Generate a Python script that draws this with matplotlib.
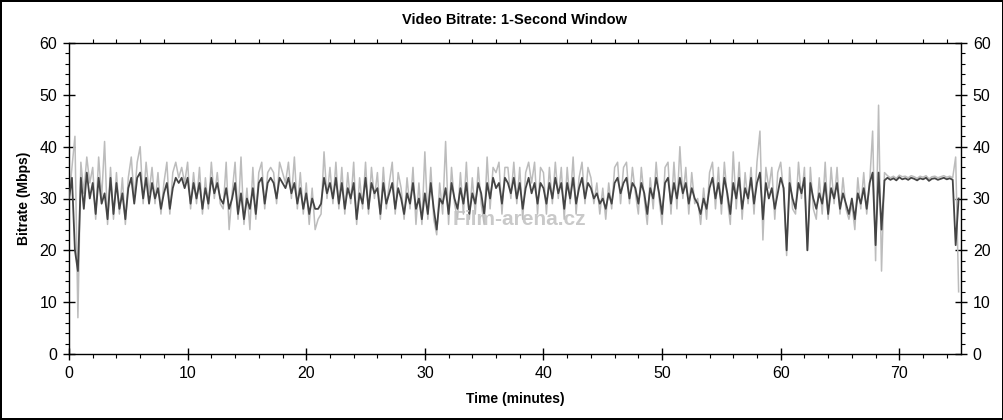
import numpy as np
import matplotlib
matplotlib.use("Agg")
import matplotlib.pyplot as plt
from matplotlib.ticker import MultipleLocator

plt.rcParams['font.family'] = ['Liberation Sans', 'DejaVu Sans']

step_min = 0.25   # one sample every 15 s

# dark trace (Mbps), 4 samples per minute
bitrate_avg = [
    30, 34, 20, 16,  34, 28, 35, 30,  33, 27, 34, 29,  31, 26, 34, 27,  33, 28, 31, 26,
    32, 34, 29, 34,  35, 30, 34, 29,  33, 30, 32, 28,  31, 33, 28, 32,  34, 33, 34, 32,
    34, 29, 33, 30,  33, 28, 32, 29,  34, 31, 33, 30,  29, 32, 28, 30,  33, 27, 31, 26,
    30, 28, 32, 27,  33, 34, 29, 33,  34, 33, 30, 34,  33, 32, 34, 31,  33, 29, 32, 28,
    31, 27, 30, 28,  28, 29, 34, 31,  33, 30, 34, 29,  33, 28, 32, 30,  33, 26, 31, 29,
    34, 28, 33, 31,  32, 27, 33, 29,  31, 33, 28, 32,  30, 27, 31, 29,  33, 28, 30, 26,
    31, 27, 33, 28,  24, 30, 29, 32,  27, 33, 30, 28,  32, 29, 33, 27,  31, 29, 33, 31,
    27, 33, 30, 34,  32, 33, 29, 34,  33, 31, 34, 30,  33, 28, 32, 34,  31, 33, 29, 33,
    32, 29, 33, 30,  34, 31, 33, 28,  33, 30, 34, 29,  32, 34, 30, 33,  32, 30, 31, 29,
    30, 28, 31, 29,  33, 34, 31, 33,  34, 30, 33, 32,  29, 33, 31, 27,  32, 30, 34, 31,
    27, 33, 34, 29,  33, 30, 34, 31,  33, 29, 32, 30,  29, 27, 30, 28,  32, 34, 30, 33,
    29, 34, 31, 27,  33, 30, 34, 28,  32, 30, 34, 29,  33, 35, 26, 33,  30, 32, 28, 31,
    34, 32, 20, 33,  30, 28, 33, 31,  34, 20, 33, 30,  28, 31, 29, 33,  27, 32, 30, 33,
    28, 31, 29, 27,  30, 26, 31, 29,  32, 28, 33, 35,  21, 35, 24, 33.5,
    34.0, 33.6, 33.9, 33.5, 34.1, 33.7, 33.9, 33.6, 34.0, 33.8, 33.5, 33.9,
    33.7, 34.0, 33.4, 33.8, 33.9, 33.6, 33.8, 34.0, 33.7, 33.9, 33.6,
    21, 30,
]

# light trace (Mbps)
bitrate_peak = [
    30, 36, 42, 7,   37, 31, 38, 33,  36, 26, 38, 30,  41, 25, 36, 26,  35, 27, 34, 25,
    34, 38, 30, 37,  40, 29, 37, 31,  36, 29, 35, 27,  33, 37, 27, 35,  37, 34, 36, 33,
    37, 28, 35, 29,  36, 27, 34, 28,  37, 30, 35, 29,  28, 37, 24, 31,  37, 26, 38, 25,
    32, 24, 36, 26,  35, 37, 28, 35,  36, 35, 29, 37,  35, 33, 37, 30,  38, 28, 35, 27,
    33, 25, 32, 24,  26, 27, 39, 30,  36, 29, 37, 28,  36, 27, 35, 29,  37, 25, 34, 28,
    37, 27, 36, 30,  35, 26, 36, 28,  33, 37, 27, 35,  32, 26, 34, 28,  36, 25, 33, 25,
    39, 26, 36, 26,  23, 33, 27, 41,  25, 36, 29, 26,  35, 27, 37, 26,  34, 27, 36, 29,
    25, 38, 28, 36,  35, 37, 27, 36,  36, 30, 37, 29,  36, 26, 35, 37,  33, 37, 27, 36,
    35, 27, 36, 29,  37, 30, 36, 26,  36, 29, 38, 27,  34, 37, 29, 36,  34, 29, 33, 27,
    32, 26, 33, 28,  36, 37, 29, 36,  37, 29, 36, 31,  27, 36, 30, 25,  34, 28, 37, 30,
    25, 36, 37, 27,  37, 28, 40, 30,  36, 27, 35, 29,  30, 25, 32, 26,  35, 37, 28, 36,
    27, 37, 30, 25,  39, 28, 37, 26,  35, 29, 36, 27,  37, 43, 22, 36,  32, 36, 26, 35,
    37, 31, 19, 36,  28, 27, 37, 30,  36, 20, 36, 28,  26, 34, 27, 37,  26, 36, 29, 36,
    27, 34, 28, 26,  29, 24, 34, 28,  35, 27, 33, 43,  18, 48, 16, 35,
    34.4, 34.0, 34.3, 33.9, 34.5, 34.2, 34.3, 34.0, 34.4, 34.2, 33.9, 34.3,
    34.1, 34.4, 33.8, 34.2, 34.3, 34.0, 34.2, 34.4, 34.1, 34.3, 34.0,
    38, 12,
]

time_min = np.arange(len(bitrate_avg)) * step_min

fig = plt.figure(figsize=(10.04, 4.20), dpi=100, edgecolor='black', linewidth=1.5)
ax = fig.add_axes([69 / 1004, 1 - 354 / 420, (961 - 69) / 1004, (354 - 43) / 420])

ax.plot(time_min, bitrate_peak, color='#bcbcbc', lw=1.1, zorder=2)
ax.plot(time_min, bitrate_avg, color='#444444', lw=1.3, zorder=3)

# watermark
ax.text(38.0, 26.0, 'Film-arena.cz', fontsize=15, fontweight='bold', color='#c4c4c4',
        ha='center', va='center', alpha=0.9, zorder=4)

ax.set_xlim(0, 75.2)
ax.set_ylim(0, 60)
ax.xaxis.set_major_locator(MultipleLocator(10))
ax.xaxis.set_minor_locator(MultipleLocator(2))
ax.yaxis.set_major_locator(MultipleLocator(10))
ax.yaxis.set_minor_locator(MultipleLocator(2))

ax.tick_params(which='major', direction='inout', length=9, width=1, labelsize=11.5,
               top=True, right=True, labelright=True, labeltop=False, pad=4)
ax.tick_params(which='minor', direction='out', length=3, width=0.8,
               top=True, right=True)
ax.tick_params(axis='x', which='major', top=False)

for s in ax.spines.values():
    s.set_linewidth(1.0)

ax.set_title('Video Bitrate: 1-Second Window', fontsize=10.5, fontweight='bold', pad=14)
ax.set_xlabel('Time (minutes)', fontsize=10, fontweight='bold', labelpad=8)
ax.set_ylabel('Bitrate (Mbps)', fontsize=10, fontweight='bold', labelpad=6)

fig.savefig('out.png', dpi=100, edgecolor=fig.get_edgecolor())
